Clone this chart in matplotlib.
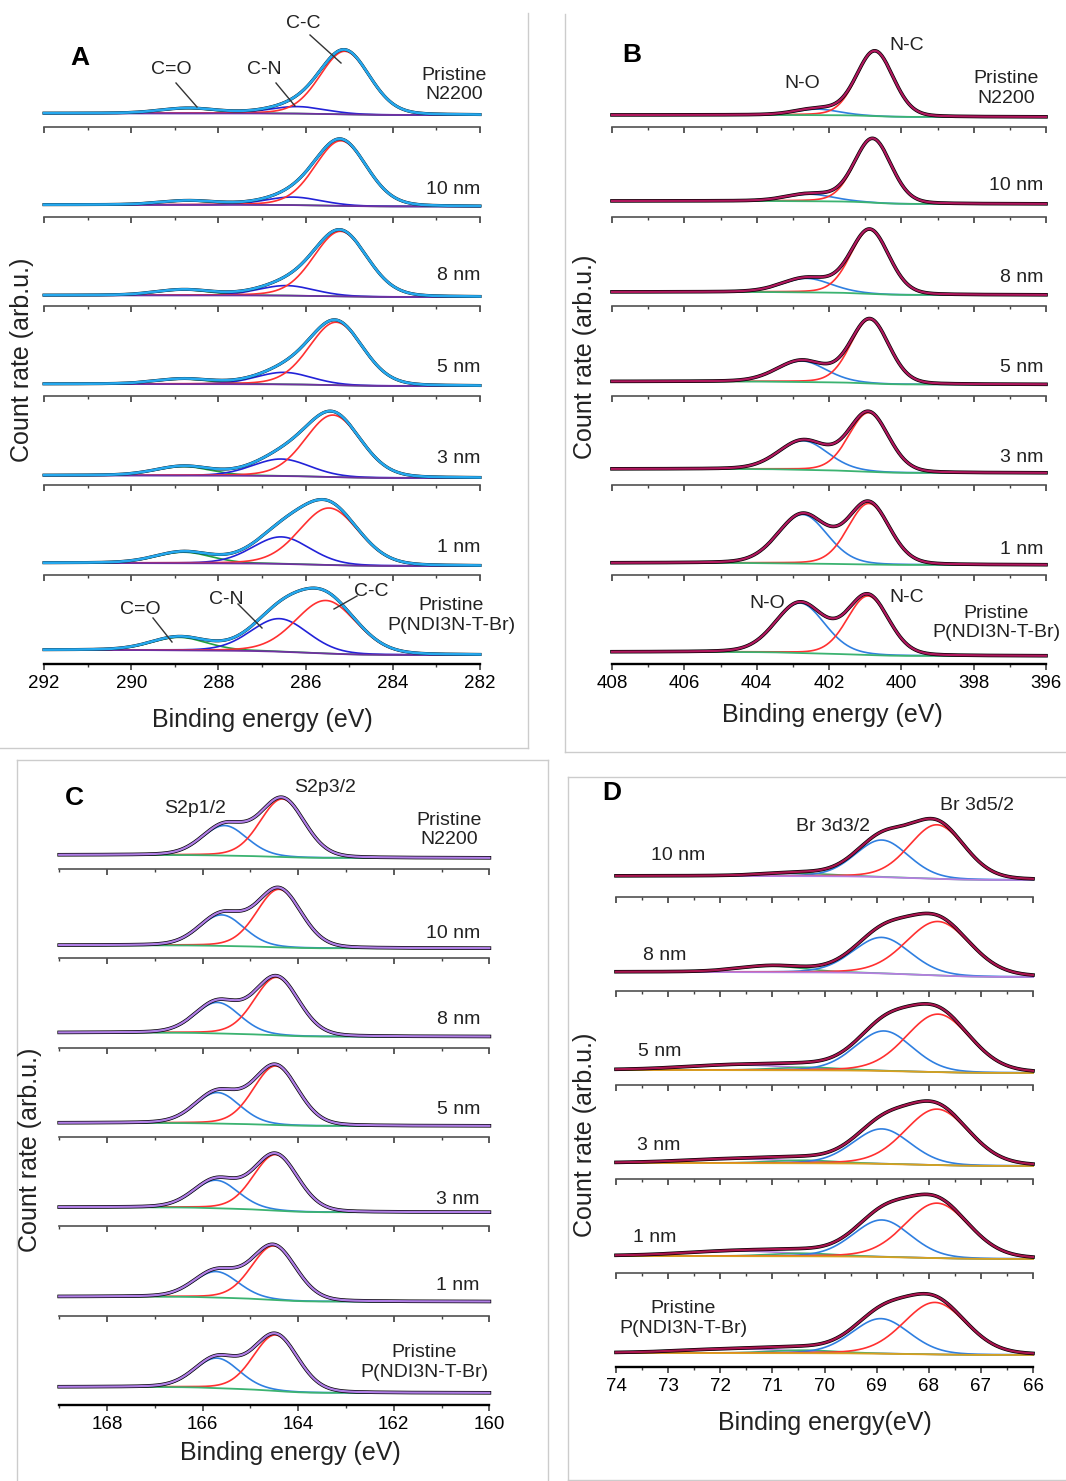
import numpy as np
import matplotlib
matplotlib.use("Agg")
import matplotlib.pyplot as plt
from matplotlib.lines import Line2D

plt.rcParams['font.family'] = ['Liberation Sans', 'DejaVu Sans']

W, H = 1066, 1481

# ---------------- A : C1s ----------------
a_names = ['Pristine\nN2200', '10 nm', '8 nm', '5 nm', '3 nm', '1 nm', 'Pristine\nP(NDI3N-T-Br)']
a_cc_pos = [285.10, 285.19, 285.20, 285.30, 285.37, 285.46, 285.53]
a_cc_h = [63, 65, 65, 63, 62, 57, 53]
a_cc_w = [1.35, 1.40, 1.45, 1.45, 1.50, 1.60, 1.65]
a_cn_pos = [286.20, 286.30, 286.45, 286.50, 286.56, 286.56, 286.60]
a_cn_h = [7, 8, 10, 12, 17, 27, 33]
a_cn_w = [1.5, 1.5, 1.5, 1.5, 1.55, 1.55, 1.55]
a_co_pos = [288.7, 288.7, 288.8, 288.8, 288.8, 288.8, 288.9]
a_co_h = [5, 4, 5.5, 5, 9, 11, 13]
a_co_w = [1.5, 1.5, 1.5, 1.5, 1.5, 1.5, 1.5]
a_base = [3, 1, 0, 0.5, -2, -0.5, 0]
a_step = [1.7, 1.7, 1.7, 2, 2.6, 3, 5]

# ---------------- B : N1s ----------------
b_names = ['Pristine\nN2200', '10 nm', '8 nm', '5 nm', '3 nm', '1 nm', 'Pristine\nP(NDI3N-T-Br)']
b_nc_pos = [400.73, 400.79, 400.87, 400.87, 400.90, 400.90, 400.92]
b_nc_h = [65, 64, 64, 64, 59, 61, 59]
b_nc_w = [1.2, 1.2, 1.25, 1.25, 1.3, 1.35, 1.35]
b_no_pos = [402.33, 402.53, 402.62, 402.76, 402.71, 402.73, 402.80]
b_no_h = [6, 7, 14, 21, 29, 49, 50]
b_no_w = [1.4, 1.5, 1.6, 1.6, 1.6, 1.6, 1.6]
b_base = [0, 2.5, 1, 1, 2, -0.5, -2]
b_step = [2, 3, 3, 3, 4, 2, 4]

# ---------------- C : S2p ----------------
c_names = ['Pristine\nN2200', '10 nm', '8 nm', '5 nm', '3 nm', '1 nm', 'Pristine\nP(NDI3N-T-Br)']
c_p32_pos = [164.33, 164.40, 164.45, 164.47, 164.47, 164.51, 164.47]
c_p32_h = [58, 58, 58, 59, 56, 54, 56]
c_p12_pos = [165.54, 165.60, 165.69, 165.69, 165.72, 165.72, 165.70]
c_p12_h = [30, 31, 31, 31, 28, 26, 30]
c_w = [1.1, 1.1, 1.1, 1.1, 1.1, 1.1, 1.1]
c_base = [-1, -2, -1, -1, 2, 2, 0]
c_step = [3, 3, 4, 3, 5, 5, 6]

# ---------------- D : Br3d ----------------
d_names = ['10 nm', '8 nm', '5 nm', '3 nm', '1 nm', 'Pristine\nP(NDI3N-T-Br)']
d_52_pos = [67.84, 67.82, 67.82, 67.84, 67.84, 67.88]
d_52_h = [54, 54, 58, 56, 55, 52]
d_52_w = [1.25, 1.45, 1.45, 1.45, 1.45, 1.42]
d_32_pos = [68.90, 68.90, 68.86, 68.90, 68.90, 68.92]
d_32_h = [37, 36, 40, 35, 37, 35]
d_32_w = [1.2, 1.3, 1.3, 1.3, 1.3, 1.3]
d_gr_pos = [70.5, 71.0, 70.3, 70.4, 70.4, 70.4]
d_gr_h = [3, 6, 3, 3, 3, 3]
d_vi_h = [0, 0, 5, 4, 5, 4]
d_base = [4, 1, -1, 0, 1, -1]
d_step = [4, 5, 3, 3, 3, 2]

RED = '#ff3030'
BLUE2 = '#2f7fe0'
GREEN = '#3cb371'

fig = plt.figure(figsize=(W / 100, H / 100), dpi=100)


def fx(px):
    return px / W


def fy(py):
    return 1 - py / H


def pv(e, c, h, w, m=0.15):
    d = (e - c) / w
    return h * ((1 - m) * np.exp(-4 * np.log(2) * d ** 2) + m / (1 + 4 * d ** 2))


def spectrum(ax, e, comps, base, step, bg_color, env_color, data_lw=2.6, env_lw=1.6):
    peaks = [pv(e, c, h, w) for c, h, w, col in comps]
    total = np.sum(peaks, axis=0)
    cum = np.cumsum(total)
    bg = base + step * cum / cum[-1]
    for p, (c, h, w, col) in zip(peaks, comps):
        if h > 0:
            ax.plot(e, bg + p, color=col, lw=1.2, zorder=2, clip_on=False)
    # background drawn over the components, under the envelope
    ax.plot(e, bg, color=bg_color, lw=1.3, zorder=3, clip_on=False)
    ax.plot(e, bg + total, color='black', lw=data_lw, zorder=4, clip_on=False)
    ax.plot(e, bg + total, color=env_color, lw=env_lw, zorder=5, clip_on=False)


def stack(x0, x1, spine0, gap, n, xlim, major, minor, ylow, tick_fmt):
    axes = []
    for k in range(n):
        sp = spine0 + gap * k
        ax = fig.add_axes([fx(x0), fy(sp), (x1 - x0) / W, gap / H])
        ax.patch.set_alpha(0)
        ax.set_xlim(*xlim)
        ax.set_ylim(-ylow, gap - ylow)
        for s in ['top', 'left', 'right']:
            ax.spines[s].set_visible(False)
        last = k == n - 1
        ax.spines['bottom'].set_color('black' if last else '#505050')
        ax.spines['bottom'].set_linewidth(1.7 if last else 1.2)
        ax.set_yticks([])
        ax.set_xticks(major)
        ax.set_xticks(minor, minor=True)
        ax.tick_params(axis='x', which='major', direction='out', length=4.5,
                       width=1.2, color='#404040', labelsize=13.5, pad=3.5)
        ax.tick_params(axis='x', which='minor', direction='out', length=2.5,
                       width=1.0, color='#404040')
        if last:
            ax.set_xticklabels([tick_fmt(v) for v in major])
        else:
            ax.set_xticklabels([])
        axes.append(ax)
    return axes


def txt(x, y, s, size=14, ha='center', **kw):
    fig.text(fx(x), fy(y), s, fontsize=size, ha=ha, va='center', color='#222222',
             multialignment='center', **kw)


def leader(p, q):
    fig.add_artist(Line2D([fx(p[0]), fx(q[0])], [fy(p[1]), fy(q[1])],
                          color='#333333', lw=1.0))


# ---- panel A
ea = np.linspace(282, 292, 700)
axA = stack(44, 480, 127, 89.5, 7, (292, 282), np.arange(292, 281, -2),
            np.arange(292, 281, -1), 9, lambda v: f'{v:.0f}')
for i, ax in enumerate(axA):
    comps = [(a_co_pos[i], a_co_h[i], a_co_w[i], '#20a040'),
             (a_cn_pos[i], a_cn_h[i], a_cn_w[i], '#2222d8'),
             (a_cc_pos[i], a_cc_h[i], a_cc_w[i], RED)]
    spectrum(ax, ea, comps, a_base[i], a_step[i], '#7030a0', '#25a8ee',
             data_lw=2.2, env_lw=1.9)

# ---- panel B
eb = np.linspace(396, 408, 700)
axB = stack(612, 1046, 127, 89.5, 7, (408, 396), np.arange(408, 395, -2),
            np.arange(408, 395, -1), 10, lambda v: f'{v:.0f}')
for i, ax in enumerate(axB):
    comps = [(b_no_pos[i], b_no_h[i], b_no_w[i], BLUE2),
             (b_nc_pos[i], b_nc_h[i], b_nc_w[i], RED)]
    spectrum(ax, eb, comps, b_base[i], b_step[i], GREEN, '#b0185e')

# ---- panel C
ec = np.linspace(160, 169, 700)
axC = stack(59.2, 489.4, 869, 89.33, 7, (169, 160), np.arange(168, 159, -2),
            np.arange(169, 159, -1), 12, lambda v: f'{v:.0f}')
for i, ax in enumerate(axC):
    comps = [(c_p12_pos[i], c_p12_h[i], c_w[i], BLUE2),
             (c_p32_pos[i], c_p32_h[i], c_w[i], RED)]
    spectrum(ax, ec, comps, c_base[i], c_step[i], GREEN, '#b07ee6')

# ---- panel D
ed = np.linspace(66, 74, 700)
axD = stack(616, 1033, 897, 94, 6, (74, 66), np.arange(74, 65, -1),
            np.arange(74, 65.9, -0.5), 13, lambda v: f'{v:.0f}')
for i, ax in enumerate(axD):
    comps = [(71.6, d_vi_h[i], 2.5, '#b57ee0'),
             (d_gr_pos[i], d_gr_h[i], 1.5, GREEN),
             (d_32_pos[i], d_32_h[i], d_32_w[i], BLUE2),
             (d_52_pos[i], d_52_h[i], d_52_w[i], RED)]
    bgc = '#b57ee0' if i < 2 else '#d8a020'
    spectrum(ax, ed, comps, d_base[i], d_step[i], bgc, '#a8154f')

# ---- spectrum names
a_lab_xy = [(454, 85), (480, 190), (480, 275), (480, 367), (480, 459), (480, 547), (451, 615.5)]
b_lab_xy = [(1006, 88.5), (1043, 186), (1043, 277), (1043, 368), (1043, 457), (1043, 550), (996, 623)]
c_lab_xy = [(449, 830), (480, 933), (480, 1020), (480, 1110), (479, 1199), (479, 1286), (424, 1362.5)]
d_lab_xy = [(651, 855), (643, 956), (638, 1052), (637, 1146), (633, 1237), (683, 1318.5)]
for names, xy in [(a_names, a_lab_xy), (b_names, b_lab_xy), (c_names, c_lab_xy)]:
    for s, (x, y) in zip(names, xy):
        txt(x, y, s, ha='center' if '\n' in s else 'right')
for s, (x, y) in zip(d_names, d_lab_xy):
    txt(x, y, s, ha='center' if '\n' in s else 'left')

# ---- peak labels
txt(171, 70, 'C=O')
txt(264, 69, 'C-N')
txt(303, 24, 'C-C')
leader((176, 83), (197, 107))
leader((276, 83), (295, 106))
leader((310, 35), (341, 63))
txt(140, 609, 'C=O')
txt(226, 599, 'C-N')
txt(371, 591, 'C-C')
leader((153, 618), (172, 642))
leader((238, 604), (262, 628))
leader((357, 596), (334, 609))
txt(907, 46, 'N-C')
txt(802, 84, 'N-O')
txt(767, 603, 'N-O')
txt(907, 597, 'N-C')
txt(195, 808, 'S2p1/2')
txt(325, 788, 'S2p3/2')
txt(833, 826, 'Br 3d3/2')
txt(977, 806, 'Br 3d5/2')

# ---- panel letters
for s, x, y in [('A', 80, 58), ('B', 632, 55), ('C', 74, 798), ('D', 612, 793)]:
    fig.text(fx(x), fy(y), s, fontsize=19, fontweight='bold', ha='center',
             va='center', color='black')

# ---- axis labels
for s, x, y in [('Binding energy (eV)', 262, 720), ('Binding energy (eV)', 832, 715),
                ('Binding energy (eV)', 290, 1453), ('Binding energy(eV)', 825, 1423)]:
    fig.text(fx(x), fy(y), s, fontsize=18, ha='center', va='center', color='#222222')
for x, y in [(22, 360), (585, 357), (30, 1150), (585, 1135)]:
    fig.text(fx(x), fy(y), 'Count rate (arb.u.)', fontsize=18, ha='center',
             va='center', rotation=90, color='#222222')

# ---- panel frames
frame = [((528, 13), (528, 748)), ((0, 748), (528, 748)),
         ((565, 14), (565, 752)), ((565, 752), (1066, 752)),
         ((17, 760), (548, 760)), ((17, 760), (17, 1481)), ((548, 760), (548, 1481)),
         ((568, 777), (1066, 777)), ((568, 777), (568, 1480)), ((568, 1480), (1066, 1480))]
for p, q in frame:
    fig.add_artist(Line2D([fx(p[0]), fx(q[0])], [fy(p[1]), fy(q[1])],
                          color='#cccccc', lw=1.0))

fig.savefig('out.png', dpi=100)
